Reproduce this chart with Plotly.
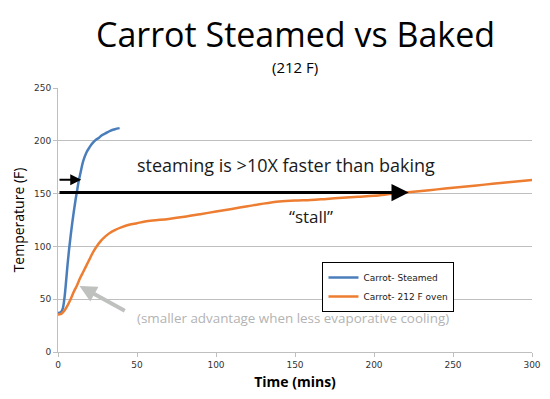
import plotly.graph_objects as go

# Data
steamed_time = [0, 2, 3, 4, 5, 6, 7, 8, 9, 10, 11, 12, 13, 14, 15, 16, 18, 20, 22, 24, 26, 28, 30, 33, 36, 39]
steamed_temp = [37, 38, 41, 50, 65, 82, 97, 110, 122, 133, 143, 152, 161, 168, 175, 181, 189, 194, 198, 201, 203, 205.5, 207, 209.5, 211, 212]

baked_time = [0, 2, 4, 6, 8, 10, 12, 14, 16, 18, 20, 22, 24, 27, 30, 33, 36, 40, 45, 50, 55, 60, 70, 80, 90,
              100, 110, 120, 130, 140, 150, 160, 170, 180, 190, 200, 210, 220, 230, 240, 250, 260, 270, 280, 290, 300]
baked_temp = [35.5, 36, 39, 44, 50, 57, 63, 70, 76, 82, 88, 94, 99, 105, 109.5, 113, 115.5, 118, 120.5, 122, 123.5, 124.5, 126, 128, 130.5,
              133, 135.5, 138, 140.5, 142.5, 143.5, 144, 145, 146, 147, 148, 149.5, 151, 152.5, 154, 155.5, 157, 158.5, 160, 161.5, 163]

series_names = ["Carrot- Steamed", "Carrot- 212 F oven"]
x_ticks = [0, 50, 100, 150, 200, 250, 300]
y_ticks = [0, 50, 100, 150, 200, 250]

BLUE = "#4a7ebb"
ORANGE = "#ed7d31"
GRID = "#bfbfbf"

fig = go.Figure()
fig.add_trace(go.Scatter(x=steamed_time, y=steamed_temp, mode="lines", name=series_names[0],
                         line=dict(color=BLUE, width=2.5, shape="spline")))
fig.add_trace(go.Scatter(x=baked_time, y=baked_temp, mode="lines", name=series_names[1],
                         line=dict(color=ORANGE, width=2.5, shape="spline")))

annotations = [
    # big arrow
    dict(x=222, y=151, ax=0, ay=151, xref="x", yref="y", axref="x", ayref="y",
         showarrow=True, arrowhead=2, arrowsize=1.15, arrowwidth=3, arrowcolor="black", text=""),
    # small arrow
    dict(x=14.7, y=163, ax=0, ay=163, xref="x", yref="y", axref="x", ayref="y",
         showarrow=True, arrowhead=2, arrowsize=1.1, arrowwidth=2, arrowcolor="black", text=""),
    # gray arrow
    dict(x=13.6, y=62.6, ax=43.2, ay=38.2, xref="x", yref="y", axref="x", ayref="y",
         showarrow=True, arrowhead=2, arrowsize=0.85, arrowwidth=4, arrowcolor="#bfc1bf", text=""),
    dict(x=144, y=177.4, xref="x", yref="y", showarrow=False,
         text="steaming is >10X faster than baking",
         font=dict(family="Open Sans", size=18, color="#1a1a1a")),
    dict(x=160, y=128, xref="x", yref="y", showarrow=False,
         text="\u201cstall\u201d", font=dict(family="Open Sans", size=17, color="#1a1a1a")),
    dict(x=148.7, y=32, xref="x", yref="y", showarrow=False,
         text="(smaller advantage when less evaporative cooling)",
         font=dict(family="Open Sans", size=13.4, color="#b3b3b3")),
    dict(x=0.5, y=1.203, xref="paper", yref="paper", xanchor="center", yanchor="middle", showarrow=False,
         text="Carrot Steamed vs Baked",
         font=dict(family="Open Sans", size=34, color="black")),
    dict(x=0.5, y=1.08, xref="paper", yref="paper", xanchor="center", yanchor="middle", showarrow=False,
         text="(212 F)", font=dict(family="Open Sans", size=15, color="black")),
]

# The page body adds an 8px offset; the figure is sized/margined to compensate.
fig.update_layout(
    width=542, height=391,
    margin=dict(l=50, r=18, t=80, b=47, autoexpand=False),
    paper_bgcolor="white", plot_bgcolor="white",
    showlegend=True,
    legend=dict(x=0.558, y=0.341, xanchor="left", yanchor="top",
                bgcolor="white", bordercolor="black", borderwidth=1,
                font=dict(family="DejaVu Sans", size=9, color="#1a1a1a"),
                itemwidth=30, tracegroupgap=0),
    annotations=annotations,
)

fig.update_xaxes(range=[0, 300], tickvals=x_ticks, showgrid=False, zeroline=False, automargin=False,
                 showline=True, linecolor=GRID, linewidth=1,
                 ticks="outside", ticklen=4, tickcolor=GRID,
                 tickfont=dict(family="DejaVu Sans", size=9, color="#333333"),
                 title=dict(text="<b>Time (mins)</b>", font=dict(family="Open Sans", size=14, color="black"), standoff=8))
fig.update_yaxes(range=[0, 250], tickvals=y_ticks, showgrid=True, gridcolor=GRID, gridwidth=1, zeroline=False,
                 automargin=False,
                 showline=True, linecolor=GRID, linewidth=1,
                 ticks="outside", ticklen=4, tickcolor=GRID,
                 tickfont=dict(family="DejaVu Sans", size=9, color="#333333"),
                 title=dict(text="Temperature (F)", font=dict(family="Open Sans", size=14, color="black"), standoff=6))

fig.write_html("out.html")
